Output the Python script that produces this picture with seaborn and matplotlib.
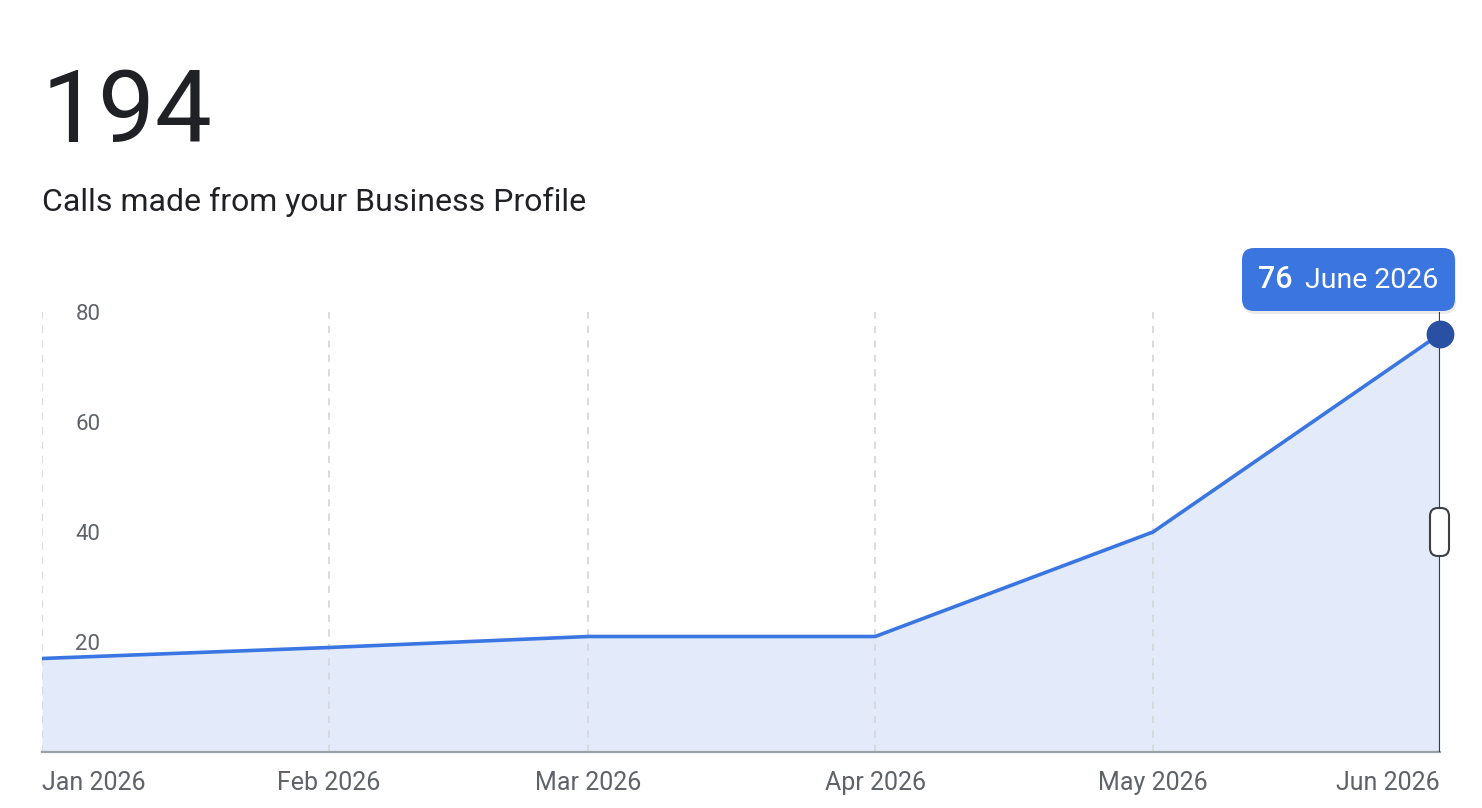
"""
Business Profile calls card: monthly area chart with hover tooltip.
"""

import matplotlib

matplotlib.use("Agg")
import matplotlib.pyplot as plt
import pandas as pd
import seaborn as sns
from matplotlib.patches import FancyBboxPatch

# data
months = ["2026-01-01", "2026-02-01", "2026-03-01", "2026-04-01", "2026-05-01", "2026-06-01"]
calls = [17, 19, 21, 21, 40, 76]
month_labels = ["Jan 2026", "Feb 2026", "Mar 2026", "Apr 2026", "May 2026", "Jun 2026"]
y_ticks = [20, 40, 60, 80]
total_calls = sum(calls)
subtitle = "Calls made from your Business Profile"
tooltip_month = "June 2026"

LINE = "#3a76e2"
FILL = "#e3eaf9"
GRID = "#d5d8dc"
TEXT = "#202124"
MUTED = "#5f6368"
DARK = "#3c4043"

df = pd.DataFrame({"month": pd.to_datetime(months), "calls": calls})

sns.set_theme(style="white")
plt.rcParams["font.family"] = ["Roboto", "DejaVu Sans"]

fig = plt.figure(figsize=(14.82, 8.08), dpi=100)
ax = fig.add_axes([42 / 1482, 56 / 808, 1398 / 1482, 440 / 808])

ax.fill_between(df["month"], df["calls"], 0, color=FILL, lw=0, zorder=1)
sns.lineplot(data=df, x="month", y="calls", ax=ax, color=LINE, lw=2.6, zorder=3)

# dashed month gridlines (last one is replaced by the cursor line)
for m in df["month"][:-1]:
    ax.axvline(m, color=GRID, lw=1.3, ls=(0, (4, 4)), zorder=2)

ax.set_xlim(df["month"].iloc[0], df["month"].iloc[-1])
ax.set_ylim(0, 80)
ax.set_xlabel("")
ax.set_ylabel("")

for side in ["top", "left", "right"]:
    ax.spines[side].set_visible(False)
ax.spines["bottom"].set_color("#9aa0a6")
ax.spines["bottom"].set_linewidth(1.6)

ax.set_xticks(df["month"])
ax.set_xticklabels(month_labels, fontsize=18, color=MUTED)
xl = ax.get_xticklabels()
xl[0].set_ha("left")
xl[-1].set_ha("right")
ax.tick_params(axis="x", length=0, pad=14)

ax.set_yticks(y_ticks)
ax.set_yticklabels([str(v) for v in y_ticks], fontsize=16, color=MUTED)
ax.tick_params(axis="y", length=0, pad=-42)
for t in ax.get_yticklabels():
    t.set_zorder(5)
ax.get_yticklabels()[0].set_bbox(
    dict(boxstyle="round,pad=0.35,rounding_size=0.8", fc="white", ec="none", alpha=0.6)
)

# hover cursor on the last month
last = df.iloc[-1]
ax.axvline(last["month"], color=DARK, lw=1.6, zorder=4)
ax.plot([last["month"]], [last["calls"]], "o", ms=19, color="#2a50a3",
        clip_on=False, zorder=6)

# slider handle
fig.patches.append(FancyBboxPatch(
    (14.30, 2.52), 0.19, 0.48, boxstyle="round,pad=0,rounding_size=0.08",
    transform=fig.dpi_scale_trans, fc="white", ec=DARK, lw=1.5, zorder=7))

# tooltip
fig.patches.append(FancyBboxPatch(
    (12.43, 4.94), 2.13, 0.63, boxstyle="round,pad=0,rounding_size=0.12",
    transform=fig.dpi_scale_trans, fc="#000000", ec="none", alpha=0.08, zorder=7))
fig.patches.append(FancyBboxPatch(
    (12.42, 4.97), 2.13, 0.63, boxstyle="round,pad=0,rounding_size=0.12",
    transform=fig.dpi_scale_trans, fc="#3b76e0", ec="none", zorder=8))
fig.text(1258 / 1482, 1 - 280 / 808, str(last["calls"]), fontsize=22, fontweight="medium",
         color="white", ha="left", va="center", zorder=9)
fig.text(1305 / 1482, 1 - 280 / 808, tooltip_month, fontsize=20.5,
         color="white", ha="left", va="center", zorder=9)

# headline
fig.text(42 / 1482, 1 - 142 / 808, str(total_calls), fontsize=73, color=TEXT,
         ha="left", va="baseline")
fig.text(42 / 1482, 1 - 211 / 808, subtitle, fontsize=23, color=TEXT,
         ha="left", va="baseline")

fig.savefig("out.png", dpi=100, facecolor="white")
plt.close(fig)
